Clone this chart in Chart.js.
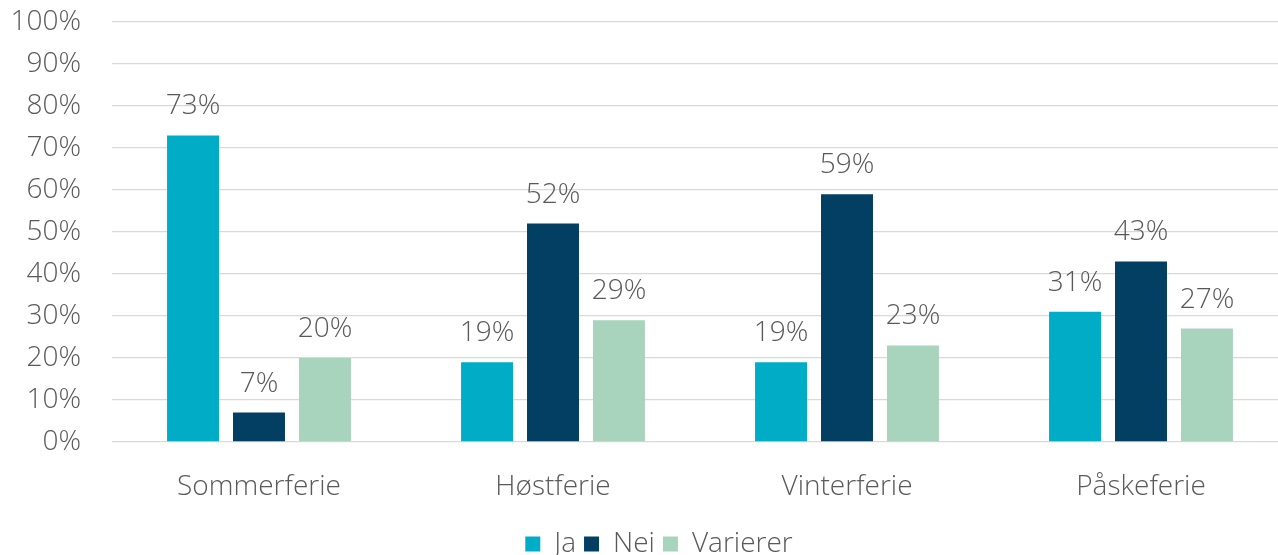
<!DOCTYPE html>
<html>
<head>
<meta charset="utf-8">
<script src="https://cdn.jsdelivr.net/npm/chart.js@4/dist/chart.umd.min.js"></script>
<style>
  html, body { margin: 0; padding: 0; background: #fff; overflow: hidden; width: 1278px; height: 555px; }
  canvas { display: block; }
</style>
</head>
<body>
<canvas id="chart" width="1300" height="555"></canvas>
<script>
const categories = ['Sommerferie', 'Høstferie', 'Vinterferie', 'Påskeferie'];
const jaValues = [73, 19, 19, 31];
const neiValues = [7, 52, 59, 43];
const varierValues = [20, 29, 23, 27];
const seriesNames = ['Ja', 'Nei', 'Varierer'];
const seriesColors = ['#00acc6', '#033f63', '#a8d3bc'];

const textColor = '#595959';
const fontFamily = '"Open Sans", "DejaVu Sans", sans-serif';
const fontSize = 28;

// draws the percent value above each bar
const valueLabels = {
    id: 'valueLabels',
    afterDatasetsDraw(chart) {
        const ctx = chart.ctx;
        ctx.save();
        ctx.fillStyle = textColor;
        ctx.font = `300 ${fontSize}px ${fontFamily}`;
        ctx.textAlign = 'center';
        ctx.textBaseline = 'alphabetic';
        chart.data.datasets.forEach((ds, i) => {
            const meta = chart.getDatasetMeta(i);
            meta.data.forEach((bar, j) => {
                ctx.fillText(ds.data[j] + '%', bar.x, bar.y - 21);
            });
        });
        ctx.restore();
    }
};

// nudge the legend a bit to the right, like the original
const legendShift = {
    id: 'legendShift',
    afterLayout(chart) {
        if (chart.legend) {
            chart.legend.left += 15;
            chart.legend.right += 15;
        }
    }
};

new Chart(document.getElementById('chart'), {
    type: 'bar',
    data: {
        labels: categories,
        datasets: [jaValues, neiValues, varierValues].map((vals, i) => ({
            label: seriesNames[i],
            data: vals,
            backgroundColor: seriesColors[i],
            borderWidth: 0,
            categoryPercentage: 0.673,
            barPercentage: 0.788
        }))
    },
    options: {
        responsive: false,
        animation: false,
        layout: { padding: { top: 22, right: 12, left: 0, bottom: -13 } },
        plugins: {
            legend: {
                position: 'bottom',
                labels: {
                    color: textColor,
                    font: { family: fontFamily, size: fontSize, weight: '300' },
                    boxWidth: 15,
                    boxHeight: 15,
                    padding: 8
                }
            },
            tooltip: { enabled: false }
        },
        scales: {
            x: {
                grid: { display: false },
                border: { display: false },
                ticks: {
                    color: textColor,
                    font: { family: fontFamily, size: fontSize, weight: '300' },
                    padding: 20
                },
                afterFit(scale) { scale.height = 80; }
            },
            y: {
                min: 0,
                max: 100,
                ticks: {
                    stepSize: 10,
                    color: textColor,
                    font: { family: fontFamily, size: fontSize, weight: '300' },
                    padding: 31,
                    callback: v => v + '%'
                },
                grid: { color: '#d9d9d9', lineWidth: 1.3, drawTicks: false },
                border: { display: false },
                afterFit(scale) {
                    scale.width = 112;
                    scale.paddingTop = 0;
                    scale.paddingBottom = 0;
                }
            }
        }
    },
    plugins: [valueLabels, legendShift]
});
</script>
</body>
</html>
